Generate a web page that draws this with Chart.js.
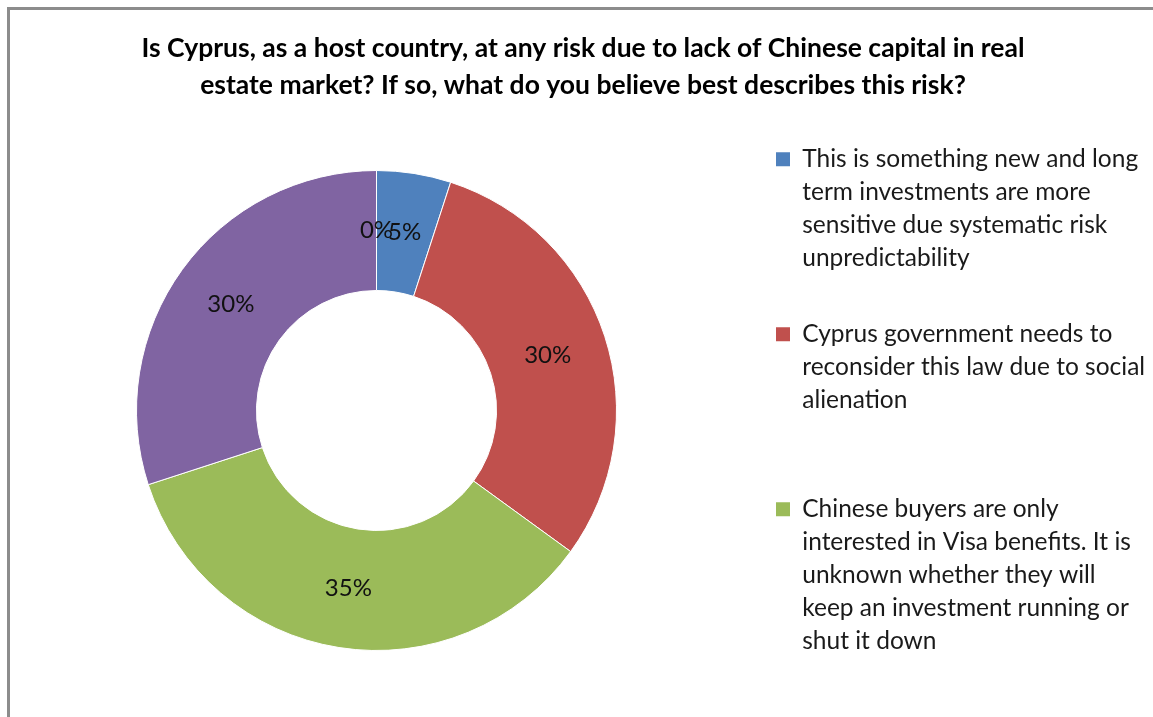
<!DOCTYPE html>
<html>
<head>
<meta charset="utf-8">
<script src="https://cdn.jsdelivr.net/npm/chart.js@4.4.1/dist/chart.umd.min.js"></script>
<style>
  html, body { margin: 0; padding: 0; background: #fff; overflow: hidden; }
  #wrap { position: relative; width: 1153px; height: 717px; }
  #frame {
    position: absolute; left: 7px; top: 7px; width: 2000px; height: 2000px;
    border-left: 3px solid #8c8c8c; border-top: 3px solid #8c8c8c;
    pointer-events: none;
  }
  canvas { position: absolute; left: 0; top: 0; }
</style>
</head>
<body>
<div id="wrap">
  <canvas id="chart" width="1153" height="717"></canvas>
  <div id="frame"></div>
</div>
<script>
// categories, one line per array entry as wrapped in the original legend
const categories = [
  ['This is something new and long', 'term investments are more', 'sensitive due systematic risk', 'unpredictability'],
  ['Cyprus government needs to', 'reconsider this law due to social', 'alienation'],
  ['Chinese buyers are only', 'interested in Visa benefits. It is', 'unknown whether they will', 'keep an investment running or', 'shut it down'],
  ['Other'],
  ['None']
];
const shares = [5, 30, 35, 30, 0];
const colors = ['#4F81BD', '#C0504D', '#9BBB59', '#8064A2', '#4BACC6'];
const legendShown = 3;

// percentage labels in the middle of each ring segment
const sliceLabels = {
  id: 'sliceLabels',
  afterDatasetsDraw(chart) {
    const ctx = chart.ctx;
    const meta = chart.getDatasetMeta(0);
    ctx.save();
    ctx.font = '24px Lato';
    ctx.fillStyle = '#111';
    ctx.textAlign = 'center';
    ctx.textBaseline = 'middle';
    meta.data.forEach((arc, i) => {
      const p = arc.tooltipPosition();
      ctx.fillText(shares[i] + '%', p.x, p.y);
    });
    ctx.restore();
  }
};

const ctx = document.getElementById('chart').getContext('2d');
new Chart(ctx, {
  type: 'doughnut',
  data: {
    labels: categories,
    datasets: [{
      data: shares,
      backgroundColor: colors,
      borderColor: '#fff',
      borderWidth: 1,
      radius: 240,
      cutout: '50%'
    }]
  },
  options: {
    responsive: false,
    animation: false,
    layout: { padding: { left: 20, right: 7, top: 0, bottom: 0 } },
    plugins: {
      title: {
        display: true,
        text: ['Is Cyprus, as a host country, at any risk due to lack of Chinese capital in real',
               'estate market? If so, what do you believe best describes this risk?'],
        color: '#000',
        font: { family: 'Lato', size: 26.5, weight: 'bold', lineHeight: 37 / 26.5 },
        padding: { top: 29.5, bottom: 0.5 }
      },
      legend: {
        position: 'right',
        align: 'start',
        fullSize: false,
        maxWidth: 413,
        labels: {
          color: '#1a1a1a',
          font: { family: 'Lato', size: 24.5, lineHeight: 33 / 24.5 },
          boxWidth: 14,
          boxHeight: 14,
          padding: 43,
          generateLabels(chart) {
            const items = Chart.overrides.doughnut.plugins.legend.labels.generateLabels(chart);
            return items.slice(0, legendShown).map(item => {
              const lines = categories[item.index].slice();
              while (lines.length < 4) lines.push('');
              item.text = lines;
              item.strokeStyle = item.fillStyle;
              item.lineWidth = 0;
              return item;
            });
          }
        }
      },
      tooltip: { enabled: false }
    }
  },
  plugins: [sliceLabels]
});
</script>
</body>
</html>
